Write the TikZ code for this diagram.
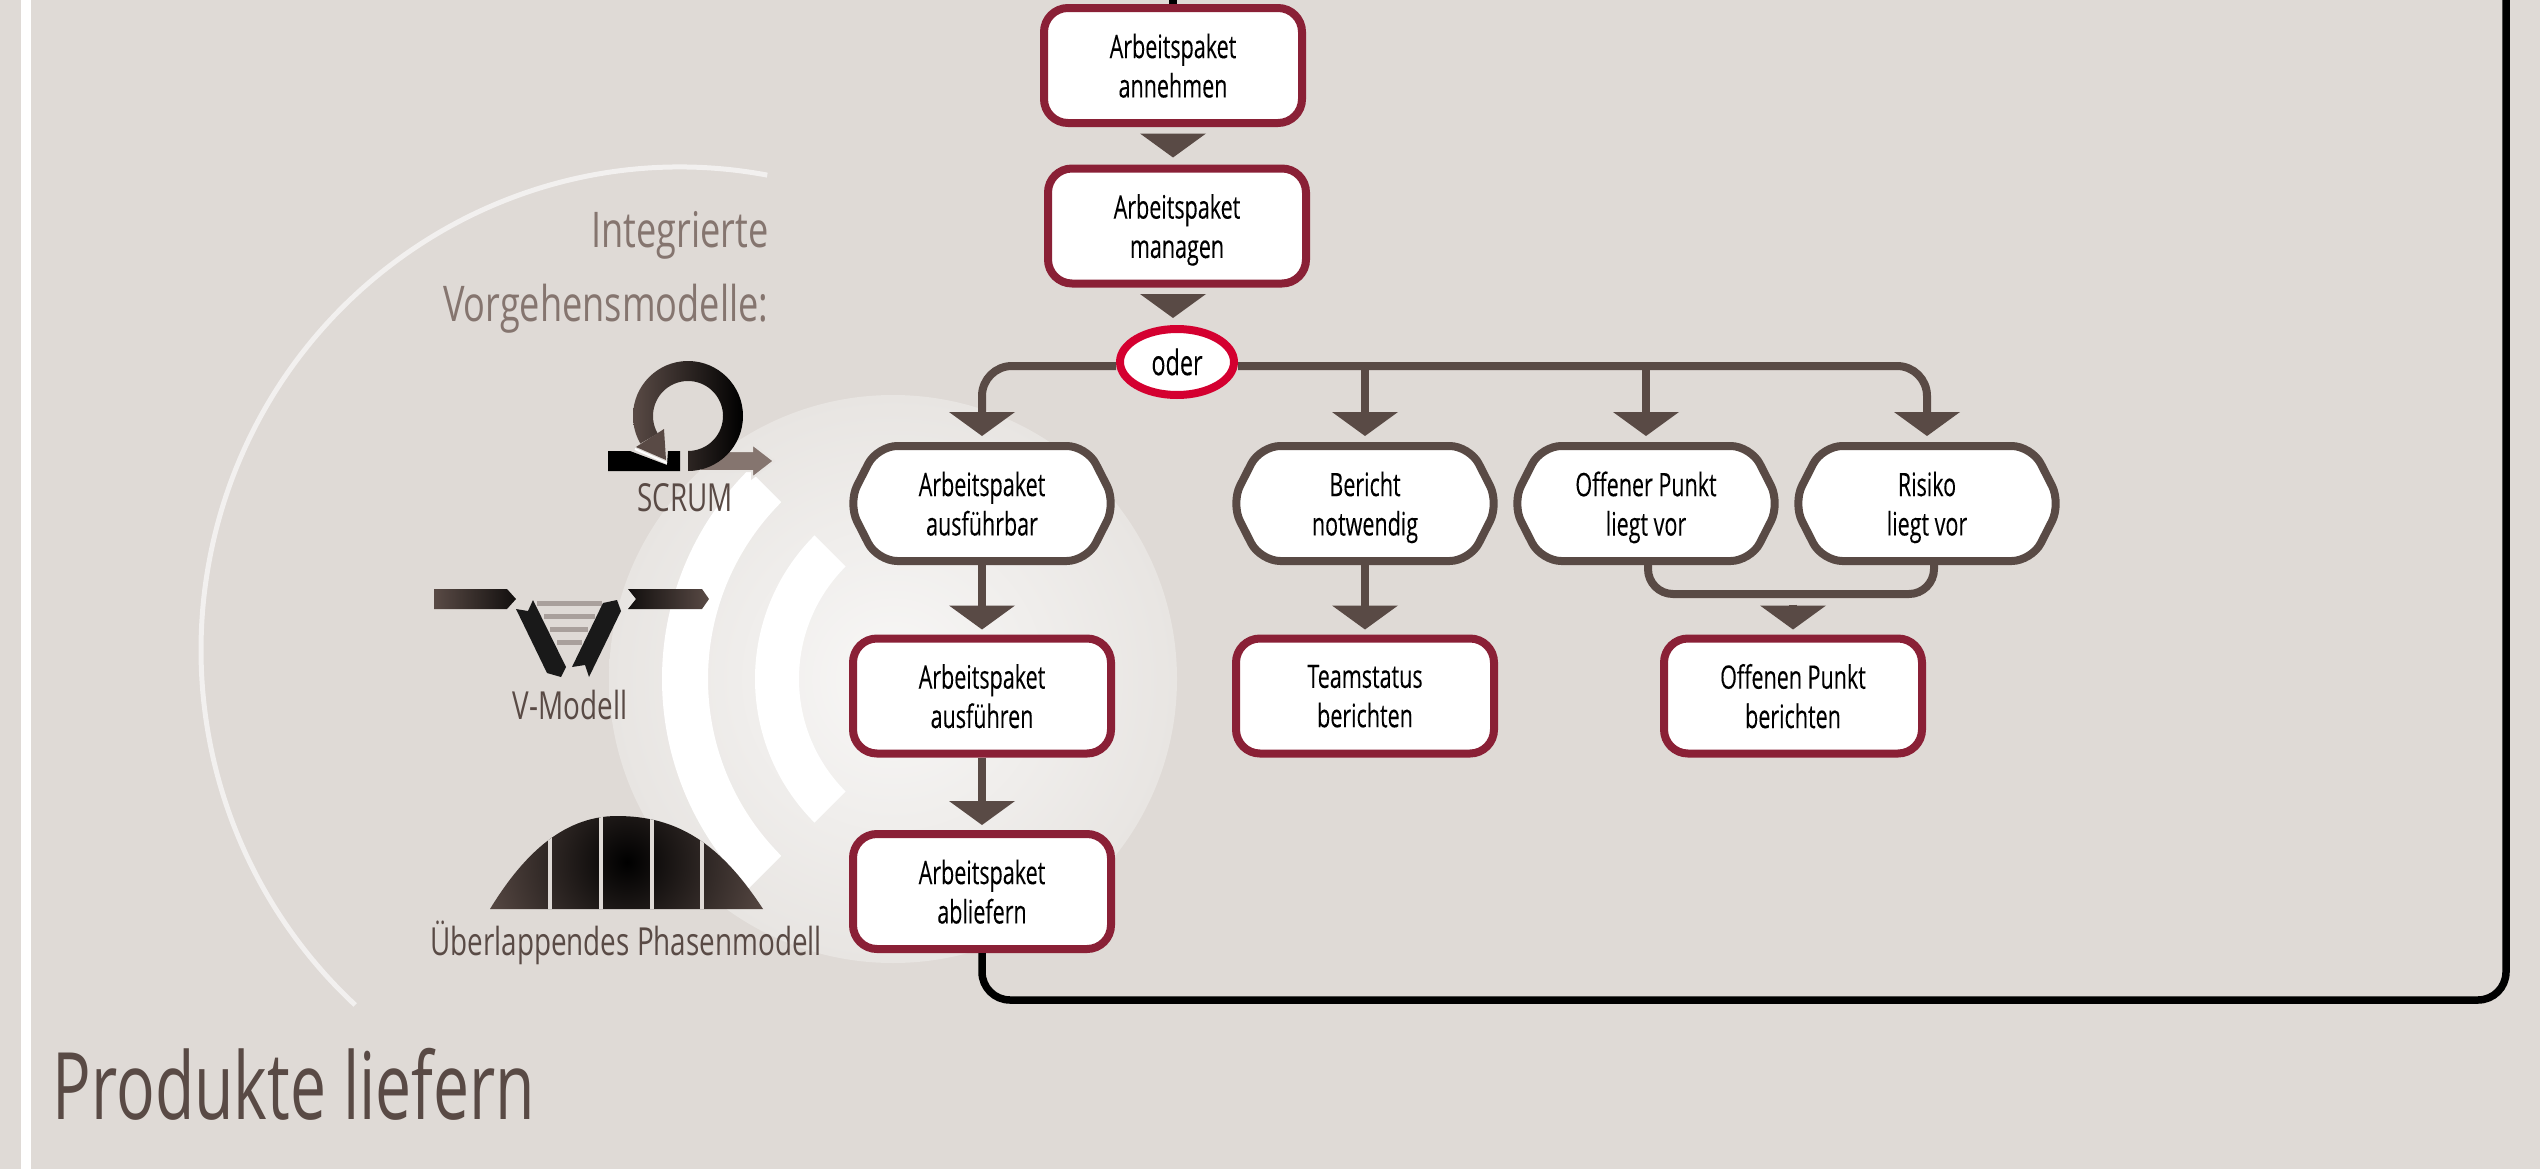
\documentclass[tikz,border=0pt]{standalone}
\usepackage{fontspec}
\setmainfont[FakeStretch=0.665,FakeBold=0.1]{Open Sans}
\newfontfamily\logofont[FakeStretch=0.72]{Open Sans}
\newfontfamily\headfont[FakeStretch=0.735]{Open Sans}
\newfontfamily\titlefont[FakeStretch=0.69]{Open Sans}
\usetikzlibrary{arrows.meta,shapes.geometric,shapes.symbols}
\definecolor{paper}{HTML}{DFDAD6}
\definecolor{umbra}{HTML}{594A45}
\definecolor{taupe}{HTML}{85756F}
\definecolor{weinrot}{HTML}{8A2036}
\definecolor{signalrot}{HTML}{D40030}
\definecolor{halo}{HTML}{E8E5E2}
\tikzset{
  taskbox/.style={draw=weinrot, fill=white, line width=0.08cm, rounded corners=0.24cm,
    minimum width=2.58cm, minimum height=1.15cm, align=center, inner sep=0pt, text depth=-0.025cm,
    font=\fontsize{9.2}{11.2}\selectfont},
  eventbox/.style={draw=umbra, fill=white, line width=0.08cm, rounded corners=0.2cm,
    shape=signal, signal to=west and east, signal from=nowhere, signal pointer angle=126,
    minimum width=2.68cm, minimum height=1.15cm, align=center, inner sep=0pt, text depth=-0.025cm,
    font=\fontsize{9.2}{11.2}\selectfont},
  flowline/.style={draw=umbra, line width=0.08cm,
    -{Triangle[length=0.24cm, width=0.66cm, fill=umbra, line width=0pt]}},
  flowbar/.style={draw=umbra, line width=0.08cm},
  backline/.style={draw=black, line width=0.075cm},
  logolabel/.style={text=umbra, font=\logofont\fontsize{11}{13}\selectfont, inner sep=0pt}
}
\begin{document}
\begin{tikzpicture}
  \useasboundingbox (0,0) rectangle (25.40,-11.69);
  % Hintergrund
  \fill[paper] (0,0) rectangle (25.40,-11.69);
  \fill[white] (0.21,0) rectangle (0.31,-11.69);

  % Scheibe und Boegen
  \shade[inner color=white!70!halo, outer color=halo] (8.93,-6.79) circle (2.84);
  \fill[white] (9.58,-6.79) ++(135:2.96) arc (135:225:2.96)
    -- ++(45:0.46) arc (225:135:2.50) -- cycle;
  \fill[white] (9.58,-6.79) ++(135:2.03) arc (135:225:2.03)
    -- ++(45:0.44) arc (225:135:1.59) -- cycle;
  \draw[white!60!paper, line width=0.05cm] (6.80,-6.50) ++(79.5:4.79 and 4.83)
    arc (79.5:227.3:4.79 and 4.83);

  % SCRUM
  \fill[taupe, draw=halo, line width=0.02cm] (7.0,-4.51) -- (7.52,-4.51) -- (7.52,-4.44)
    -- (7.74,-4.61) -- (7.52,-4.78) -- (7.52,-4.71) -- (7.0,-4.71) -- cycle;
  \path[left color=umbra, right color=black] (6.88,-4.71) arc (-90:210:0.55)
    -- ++(30:0.20) arc (210:-90:0.35) -- cycle;
  \fill[black] (6.08,-4.51) -- (6.30,-4.51) -- (6.67,-4.65) -- (6.68,-4.51) -- (6.80,-4.51)
    -- (6.80,-4.71) -- (6.08,-4.71) -- cycle;
  \draw[white, line width=0.02cm] (6.35,-4.49) -- (6.67,-4.63);
  \fill[umbra] (6.36,-4.47) -- (6.64,-4.29) -- (6.66,-4.60) -- cycle;
  \node[logolabel] (scrum) at (6.85,-4.98) {SCRUM};

  % V-Modell
  \foreach \y/\xa/\xb in {6.01/5.37/6.02, 6.14/5.44/5.95, 6.27/5.50/5.88, 6.40/5.57/5.82} {
    \fill[umbra!40!paper] (\xa,-\y) rectangle (\xb,-\y-0.05);
  }
  \path[left color=umbra, right color=black!80!umbra] (4.34,-5.89) -- (5.07,-5.89) -- (5.16,-5.99)
    -- (5.07,-6.09) -- (4.34,-6.09) -- cycle;
  \path[left color=black!80!umbra, right color=umbra] (6.28,-5.89) -- (7.02,-5.89) -- (7.09,-5.99)
    -- (7.02,-6.09) -- (6.28,-6.09) -- (6.36,-5.99) -- cycle;
  \fill[black!90] (5.16,-6.09) -- (5.28,-6.11) -- (5.33,-6.00) -- (5.66,-6.67) -- (5.61,-6.77)
    -- (5.47,-6.73) -- cycle;
  \fill[black!90] (5.72,-6.67) -- (5.85,-6.65) -- (5.89,-6.77) -- (6.21,-6.11) -- (6.17,-6.00)
    -- (6.03,-6.03) -- cycle;
  \node[logolabel] (vmodell) at (5.70,-7.05) {V-Modell};

  % Phasenmodell
  \begin{scope}
    \clip (4.90,-9.09) .. controls (5.20,-8.60) and (5.60,-8.16) .. (6.17,-8.16)
      .. controls (6.77,-8.16) and (7.20,-8.43) .. (7.63,-9.09) -- cycle;
    \shade[inner color=black, outer color=umbra] (6.27,-8.62) circle (1.50);
    \foreach \x in {5.50,6.01,6.52,7.02} {
      \draw[paper, line width=0.04cm] (\x,-8.1) -- (\x,-9.09);
    }
  \end{scope}
  \node[logolabel] (phasen) at (6.26,-9.43) {Überlappendes Phasenmodell};

  % Ueberschriften
  \node[anchor=base east, text=taupe, font=\headfont\fontsize{14}{17}\selectfont, inner sep=0pt] (integriert)
    at (7.69,-2.47) {Integrierte};
  \node[anchor=base east, text=taupe, font=\headfont\fontsize{14}{17}\selectfont, inner sep=0pt] (vorgehen)
    at (7.69,-3.21) {Vorgehensmodelle:};
  \node[anchor=base west, text=umbra, font=\titlefont\fontsize{26.5}{32}\selectfont, inner sep=0pt] (titel)
    at (0.52,-11.19) {Produkte liefern};

  % Knoten
  \node[taskbox] (annehmen) at (11.73,-0.655) {Arbeitspaket\\annehmen};
  \node[taskbox] (managen) at (11.77,-2.26) {Arbeitspaket\\managen};
  \node[draw=signalrot, fill=white, line width=0.08cm, shape=ellipse, minimum width=1.14cm,
    minimum height=0.66cm, inner sep=0pt, font=\fontsize{10}{12}\selectfont] (oder) at (11.77,-3.62) {oder};
  \node[eventbox] (ausfuehrbar) at (9.82,-5.035) {Arbeitspaket\\ausführbar};
  \node[eventbox] (bericht) at (13.65,-5.035) {Bericht\\notwendig};
  \node[eventbox] (offen) at (16.46,-5.035) {Offener Punkt\\liegt vor};
  \node[eventbox] (risiko) at (19.27,-5.035) {Risiko\\liegt vor};
  \node[taskbox] (ausfuehren) at (9.82,-6.96) {Arbeitspaket\\ausführen};
  \node[taskbox] (teamstatus) at (13.65,-6.96) {Teamstatus\\berichten};
  \node[taskbox] (offenen) at (17.93,-6.96) {Offenen Punkt\\berichten};
  \node[taskbox] (abliefern) at (9.82,-8.915) {Arbeitspaket\\abliefern};

  % Verbindungen
  \coordinate (split) at (11.77,-3.66);
  \coordinate (joinpt) at (17.93,-5.94);
  \coordinate (topin) at (11.73,0.1);
  \coordinate (backtop) at (25.06,0.1);
  \coordinate (backlow) at (25.06,-10.0);
  \draw[flowline, shorten <=0.07cm, shorten >=0.07cm] (annehmen.south -| managen.south) ++(-0.04,0) -- ([xshift=-0.04cm]managen.north);
  \draw[flowline, shorten <=0.065cm, shorten >=0.07cm] ([xshift=-0.04cm]managen.south) -- ([xshift=-0.04cm]oder.north);
  \draw[flowline, rounded corners=0.3cm] ([yshift=-0.04cm]oder.west) -| ([yshift=0.06cm]ausfuehrbar.north);
  \draw[flowline, rounded corners=0.3cm] ([yshift=-0.04cm]oder.east) -| ([yshift=0.06cm]risiko.north);
  \draw[flowline] (split -| bericht.north) -- ([yshift=0.06cm]bericht.north);
  \draw[flowline] (split -| offen.north) -- ([yshift=0.06cm]offen.north);
  \draw[flowline] (ausfuehrbar.south) -- ([yshift=0.05cm]ausfuehren.north);
  \draw[flowline] (bericht.south) -- ([yshift=0.05cm]teamstatus.north);
  \draw[flowline] (ausfuehren.south) -- ([yshift=0.05cm]abliefern.north);
  \draw[flowbar, rounded corners=0.25cm] (16.48,-5.65) |- (joinpt) -| (19.34,-5.65);
  \draw[flowline, shorten <=0.105cm] (joinpt) -- ([yshift=0.05cm]offenen.north);
  \draw[backline] (annehmen.north) -- (topin);
  \draw[backline, rounded corners=0.28cm] (abliefern.south) |- (backlow) -- (backtop);
\end{tikzpicture}
\end{document}
